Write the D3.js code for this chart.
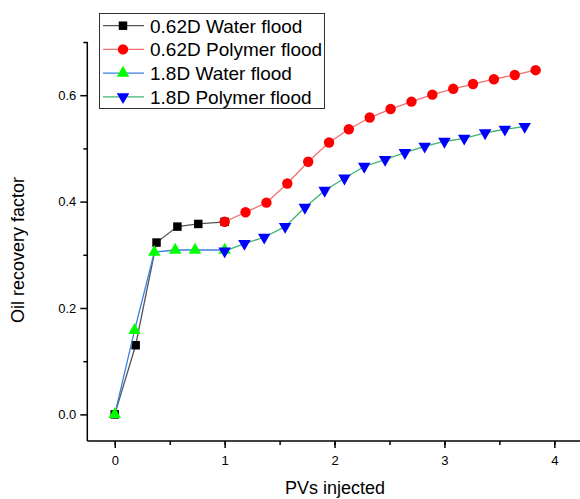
<!DOCTYPE html>
<html>
<head>
  <meta charset="utf-8" />
  <title>Oil recovery factor vs PVs injected</title>
  <style>
    body { margin: 0; background: #fff; }
    text { font-family: Arial, "Liberation Sans", sans-serif; fill: #000; }
    .axis path, .axis line { stroke: #000; stroke-width: 1.5px; }
    .axis text { font-size: 13px; }
  </style>
</head>
<body>
  <div id="container"></div>
  <script src="https://d3js.org/d3.v7.min.js"></script>
  <script>
// data
const names = ["0.62D Water flood", "0.62D Polymer flood", "1.8D Water flood", "1.8D Polymer flood"];

const water062X = [0, 0.19, 0.38, 0.57, 0.76, 1.0];
const water062Y = [0, 0.130, 0.323, 0.353, 0.358, 0.362];

const poly062X = [1.0, 1.19, 1.38, 1.57, 1.76, 1.95, 2.13, 2.32, 2.51, 2.70, 2.89, 3.08, 3.26, 3.45, 3.64, 3.83];
const poly062Y = [0.362, 0.380, 0.398, 0.434, 0.475, 0.511, 0.536, 0.558, 0.574, 0.588, 0.601, 0.612, 0.621, 0.630, 0.638, 0.647];

const water18X = [0, 0.18, 0.36, 0.55, 0.73, 1.0];
const water18Y = [0, 0.158, 0.305, 0.309, 0.309, 0.309];

const poly18X = [1.0, 1.18, 1.36, 1.55, 1.73, 1.91, 2.09, 2.27, 2.46, 2.64, 2.82, 3.0, 3.18, 3.37, 3.55, 3.73];
const poly18Y = [0.307, 0.321, 0.333, 0.353, 0.389, 0.421, 0.444, 0.466, 0.479, 0.492, 0.504, 0.513, 0.519, 0.529, 0.536, 0.541];

const xTicks = [0, 1, 2, 3, 4];
const yTicks = [0, 0.2, 0.4, 0.6];

const w = 580, h = 499;
const mLeft = 87.3, mRight = 581.8, mTop = 42, mBottom = 441;

const svg = d3.select("#container").append("svg")
  .attr("width", w)
  .attr("height", h);

const x = d3.scaleLinear().domain([-0.25, 4.25]).range([mLeft, mRight]);
const y = d3.scaleLinear().domain([-0.05, 0.7]).range([mBottom, mTop]);

// axes: major + minor ticks
svg.append("g").attr("class", "axis")
  .attr("transform", "translate(0," + mBottom + ")")
  .call(d3.axisBottom(x).tickValues(d3.range(0, 4.01, 0.5)).tickSize(4).tickFormat(""))
  .call(g => g.select(".domain").remove());
svg.append("g").attr("class", "axis")
  .attr("transform", "translate(0," + mBottom + ")")
  .call(d3.axisBottom(x).tickValues(xTicks).tickSize(7).tickPadding(8).tickFormat(d3.format("d")))
  .call(g => g.select(".domain").attr("d", "M" + mLeft + ",0H" + mRight));

svg.append("g").attr("class", "axis")
  .attr("transform", "translate(" + mLeft + ",0)")
  .call(d3.axisLeft(y).tickValues([0.1, 0.3, 0.5, 0.7]).tickSize(4).tickFormat(""))
  .call(g => g.select(".domain").remove());
svg.append("g").attr("class", "axis")
  .attr("transform", "translate(" + mLeft + ",0)")
  .call(d3.axisLeft(y).tickValues(yTicks).tickSize(7).tickPadding(4).tickFormat(d3.format(".1f")))
  .call(g => g.select(".domain").attr("d", "M0," + mTop + "V" + mBottom));

// axis titles
svg.append("text")
  .attr("x", 335).attr("y", 494)
  .attr("text-anchor", "middle")
  .style("font-size", "18px")
  .text("PVs injected");
svg.append("text")
  .attr("transform", "translate(24,250) rotate(-90)")
  .attr("text-anchor", "middle")
  .style("font-size", "18px")
  .text("Oil recovery factor");

const series = [
  { name: names[0], xs: water062X, ys: water062Y, line: "#555555", fill: "#000000", sym: d3.symbolSquare, size: 72, rot: 0 },
  { name: names[1], xs: poly062X, ys: poly062Y, line: "#f07070", fill: "#ff0000", sym: d3.symbolCircle, size: 85, rot: 0 },
  { name: names[2], xs: water18X, ys: water18Y, line: "#3a80e0", fill: "#00ff00", sym: d3.symbolTriangle, size: 68, rot: 0 },
  { name: names[3], xs: poly18X, ys: poly18Y, line: "#3cb371", fill: "#0000ff", sym: d3.symbolTriangle, size: 68, rot: 180 }
];

const line = d3.line().x(d => x(d[0])).y(d => y(d[1]));

series.forEach(s => {
  const pts = s.xs.map((v, i) => [v, s.ys[i]]);
  svg.append("path")
    .datum(pts)
    .attr("fill", "none")
    .attr("stroke", s.line)
    .attr("stroke-width", 1.3)
    .attr("d", line);
  svg.append("g").selectAll("path")
    .data(pts)
    .join("path")
    .attr("transform", d => "translate(" + x(d[0]) + "," + y(d[1]) + ") rotate(" + s.rot + ")")
    .attr("d", d3.symbol().type(s.sym).size(s.size))
    .attr("fill", s.fill);
});

// legend
const leg = svg.append("g");
leg.append("rect")
  .attr("x", 99.5).attr("y", 13.5)
  .attr("width", 225).attr("height", 95)
  .attr("fill", "#fff")
  .attr("stroke", "#333")
  .attr("stroke-width", 1);

series.forEach((s, i) => {
  const cy = 25.7 + i * 23.7;
  leg.append("line")
    .attr("x1", 103).attr("x2", 144)
    .attr("y1", cy).attr("y2", cy)
    .attr("stroke", s.line)
    .attr("stroke-width", 1.3);
  leg.append("path")
    .attr("transform", "translate(123," + cy + ") rotate(" + s.rot + ")")
    .attr("d", d3.symbol().type(s.sym).size(s.size))
    .attr("fill", s.fill);
  leg.append("text")
    .attr("x", 150).attr("y", cy + 7)
    .style("font-size", "19px")
    .text(s.name);
});
  </script>
</body>
</html>
